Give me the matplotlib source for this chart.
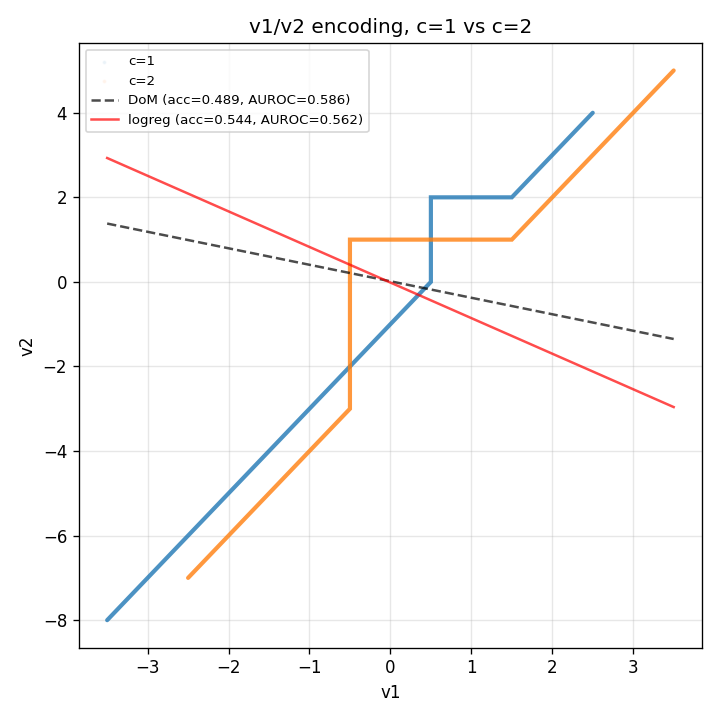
import matplotlib.pyplot as plt

# piecewise paths traced by the two classes (vertices)
c1_v1 = [-3.5, 0.5, 0.5, 1.5, 2.5]
c1_v2 = [-8.0, 0.0, 2.0, 2.0, 4.0]
c2_v1 = [-2.5, -0.5, -0.5, 1.5, 3.5]
c2_v2 = [-7.0, -3.0, 1.0, 1.0, 5.0]

# decision boundaries
bound_v1 = [-3.5, 3.5]
dom_v2 = [1.38, -1.35]
logreg_v2 = [2.93, -2.96]

fig, ax = plt.subplots(figsize=(6, 6), dpi=120)

ax.plot(c1_v1, c1_v2, color='tab:blue', lw=2.5, alpha=0.8, solid_capstyle='round', solid_joinstyle='miter')
ax.plot(c2_v1, c2_v2, color='tab:orange', lw=2.5, alpha=0.8, solid_capstyle='round', solid_joinstyle='miter')
ax.scatter([], [], s=2, color='tab:blue', alpha=0.05, label='c=1')
ax.scatter([], [], s=2, color='tab:orange', alpha=0.05, label='c=2')

ax.plot(bound_v1, dom_v2, 'k--', alpha=0.7, lw=1.5, label='DoM (acc=0.489, AUROC=0.586)')
ax.plot(bound_v1, logreg_v2, color='red', alpha=0.7, lw=1.5, label='logreg (acc=0.544, AUROC=0.562)')

ax.set_xlim(-3.85, 3.85)
ax.set_ylim(-8.65, 5.65)
ax.set_xlabel('v1')
ax.set_ylabel('v2')
ax.set_title('v1/v2 encoding, c=1 vs c=2')
ax.grid(True, alpha=0.3)
ax.legend(loc='upper left', fontsize=8)
fig.tight_layout()
plt.savefig('out.png', dpi=120)
